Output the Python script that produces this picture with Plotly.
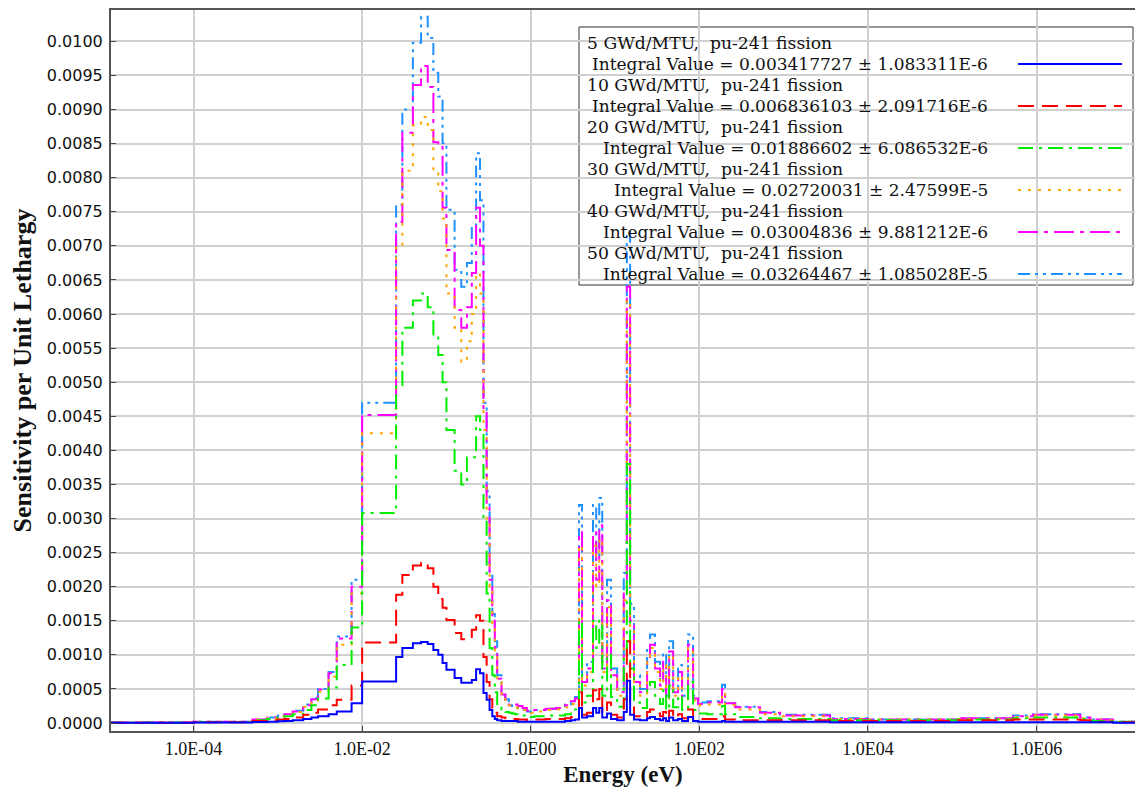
import plotly.graph_objects as go

# ---------------- data ----------------
# group boundaries in eV (step histogram, 92 groups)
energy_edges = [
    1e-5, 1e-4, 5e-4, 7.5e-4, 1e-3, 1.2e-3, 1.5e-3, 2e-3, 2.5e-3, 3e-3, 4e-3, 5e-3, 7.5e-3, 1e-2,
    2.53e-2, 3e-2, 4e-2, 5e-2, 6e-2, 7e-2, 8e-2, 9e-2, 0.1,
    0.125, 0.15, 0.175, 0.2, 0.225, 0.25, 0.275, 0.3,
    0.325, 0.35, 0.375, 0.4, 0.45, 0.5, 0.55, 0.6,
    0.65, 0.7, 0.8, 0.9, 1.0,
    1.1, 1.5, 2.0, 2.55, 3.0, 3.35,
    3.74, 4.06, 4.66, 5.48, 5.98, 6.5, 7.05, 8.04, 8.97, 10.6, 12.7, 13.8, 15.1, 16.8, 19.8,
    24.0, 26.0, 29.8, 34.2, 37.2, 40.4, 43.8, 48.9, 56.0, 62.4, 73.5, 84.3, 96.6, 124, 186,
    202, 266, 525, 907, 3560, 1.0e4, 1.15e5, 5.27e5, 9.1e5, 3.3e6, 4.35e6, 8.1e6, 2.0e7,
]

s5 = [
    0.000003, 0.000008, 0.000015, 0.00002, 0.000025, 0.00003, 0.00004, 0.00006, 0.00008, 0.0001, 0.00013, 0.00017, 0.00029,
    0.00061, 0.00097, 0.0011, 0.00117, 0.00119, 0.00116, 0.00107, 0.001, 0.00088,
    0.00078, 0.00066, 0.00059, 0.00059, 0.00063, 0.00079, 0.00073, 0.00044,
    0.00034, 0.00019, 0.0001, 0.00006, 0.00004, 0.00003, 0.00003, 0.00003,
    0.00003, 0.00003, 0.00002, 0.00002, 0.00002,
    0.00002, 0.00002, 0.00002, 0.00002, 0.00003, 0.00004,
    0.00005, 0.00022, 0.00008, 0.0001, 0.00022, 0.00015, 0.00022, 0.00008, 0.00014, 0.00006, 0.00004, 0.00016, 0.00062, 0.00012, 0.00005,
    0.00004, 0.00007, 0.00009, 0.00006, 0.00004, 0.00007, 0.00003, 0.00008, 0.00004, 0.00006, 0.00003, 0.00009, 0.00003, 0.00002, 0.00002,
    0.00003, 0.00002, 0.00002, 0.00002, 0.00002, 0.00001, 0.00001, 0.00001, 0.00001, 0.00001, 0.00001, 0.00001, 0.000005,
]

s10 = [
    0.000004, 0.00001, 0.00003, 0.00004, 0.00005, 0.00006, 0.00008, 0.00012, 0.00015, 0.0002, 0.00026, 0.00034, 0.00055,
    0.00118, 0.00188, 0.00217, 0.00231, 0.00235, 0.00227, 0.002, 0.00182, 0.00169,
    0.00151, 0.00132, 0.00123, 0.00123, 0.00137, 0.00158, 0.0015, 0.00097,
    0.0006, 0.00035, 0.00022, 0.00015, 0.0001, 0.00008, 0.00007, 0.00007,
    0.00006, 0.00006, 0.00005, 0.00005, 0.00004,
    0.00004, 0.00005, 0.00006, 0.00006, 0.00007, 0.00009,
    0.0001, 0.00045, 0.00012, 0.00015, 0.00048, 0.00035, 0.0005, 0.00014, 0.0003, 0.00012, 0.00008, 0.00035, 0.0012, 0.00028, 0.0001,
    0.00008, 0.00016, 0.0002, 0.00014, 0.0001, 0.00016, 0.00007, 0.00018, 0.00008, 0.00013, 0.00007, 0.0002, 0.00007, 0.00006, 0.00006,
    0.0001, 0.00005, 0.00004, 0.00004, 0.00004, 0.00003, 0.00003, 0.00004, 0.00005, 0.00005, 0.00004, 0.00002, 0.00001,
]

s20 = [
    0.000005, 0.000015, 0.00004, 0.00006, 0.00008, 0.0001, 0.00013, 0.00019, 0.00026, 0.00036, 0.00052, 0.00085, 0.0014,
    0.00308, 0.00496, 0.0058, 0.0062, 0.0063, 0.0061, 0.0057, 0.0054, 0.005,
    0.0043, 0.0037, 0.0035, 0.0039, 0.0039, 0.0045, 0.0043, 0.003,
    0.0019, 0.0011, 0.0007, 0.00045, 0.00028, 0.0002, 0.00016, 0.00015,
    0.00014, 0.00013, 0.00012, 0.00011, 0.0001,
    0.00009, 0.0001, 0.00011, 0.00011, 0.00013, 0.00017,
    0.0002, 0.0015, 0.0003, 0.0004, 0.0015, 0.0011, 0.0015, 0.0004, 0.001, 0.00038, 0.00024, 0.001, 0.0038, 0.0008, 0.0003,
    0.00022, 0.0005, 0.0006, 0.0004, 0.00028, 0.00048, 0.00019, 0.00055, 0.00023, 0.0004, 0.00019, 0.0006, 0.00019, 0.00014, 0.00013,
    0.00025, 0.00013, 0.00009, 0.00007, 0.00006, 0.00004, 0.00004, 0.00005, 0.00007, 0.00008, 0.00006, 0.00003, 0.00002,
]

s30 = [
    0.000006, 0.00002, 0.00005, 0.00007, 0.0001, 0.00012, 0.00016, 0.00024, 0.00033, 0.00046, 0.00068, 0.00115, 0.0019,
    0.00425, 0.007, 0.0081, 0.00877, 0.00889, 0.0087, 0.0081, 0.0078, 0.0074,
    0.0063, 0.0058, 0.0053, 0.0056, 0.006, 0.0066, 0.0063, 0.0043,
    0.003, 0.002, 0.0014, 0.001, 0.0006, 0.0004, 0.0003, 0.00026,
    0.00024, 0.00023, 0.00021, 0.00019, 0.00016,
    0.00015, 0.00017, 0.00019, 0.0002, 0.00023, 0.00028,
    0.00032, 0.0026, 0.00055, 0.00075, 0.0026, 0.002, 0.0027, 0.00075, 0.0017, 0.00065, 0.0004, 0.0018, 0.0062, 0.0014, 0.00055,
    0.0004, 0.0009, 0.0011, 0.00075, 0.0005, 0.00085, 0.00033, 0.001, 0.0004, 0.0007, 0.00033, 0.0011, 0.00033, 0.00026, 0.00027,
    0.00045, 0.00026, 0.0002, 0.00013, 0.0001, 0.00006, 0.00005, 0.00006, 0.00009, 0.00011, 0.00007, 0.00004, 0.00002,
]

s40 = [
    0.000006, 0.00002, 0.00005, 0.00008, 0.0001, 0.00013, 0.00017, 0.00026, 0.00035, 0.00049, 0.00073, 0.00124, 0.002,
    0.00452, 0.00735, 0.00866, 0.00936, 0.00964, 0.00933, 0.00852, 0.0085, 0.00756,
    0.00694, 0.00606, 0.0058, 0.0061, 0.0066, 0.00756, 0.007, 0.0046,
    0.0032, 0.0021, 0.0015, 0.0011, 0.00065, 0.00042, 0.00032, 0.00026,
    0.00028, 0.00027, 0.00025, 0.00022, 0.00018,
    0.00017, 0.00019, 0.00021, 0.00022, 0.00026, 0.00032,
    0.00036, 0.0028, 0.0006, 0.0008, 0.0028, 0.0021, 0.0029, 0.0008, 0.0018, 0.0007, 0.00045, 0.0019, 0.0064, 0.0015, 0.0006,
    0.00045, 0.00095, 0.00115, 0.0008, 0.00055, 0.0009, 0.00036, 0.00105, 0.00045, 0.00075, 0.00036, 0.00115, 0.00036, 0.00028, 0.0003,
    0.0005, 0.00029, 0.00023, 0.00015, 0.00011, 0.00006, 0.00005, 0.00007, 0.0001, 0.00012, 0.00008, 0.00005, 0.00002,
]

s50 = [
    0.000006, 0.00002, 0.00005, 0.00008, 0.00011, 0.00013, 0.00018, 0.00027, 0.00037, 0.0005, 0.00075, 0.00127, 0.0021,
    0.0047, 0.0076, 0.009, 0.00998, 0.01036, 0.01005, 0.00954, 0.00919, 0.00851,
    0.00753, 0.00665, 0.0064, 0.00675, 0.0073, 0.00836, 0.00767, 0.0047,
    0.0034, 0.0022, 0.0016, 0.0012, 0.0007, 0.00045, 0.00035, 0.00026,
    0.00025, 0.00024, 0.00022, 0.0002, 0.00017,
    0.00016, 0.00019, 0.00021, 0.00022, 0.00027, 0.00034,
    0.00038, 0.0032, 0.0007, 0.0009, 0.0032, 0.0024, 0.0033, 0.0009, 0.0021, 0.0008, 0.0005, 0.0022, 0.0072, 0.00175, 0.0007,
    0.0005, 0.00107, 0.0013, 0.0009, 0.0006, 0.00103, 0.0004, 0.0012, 0.0005, 0.00085, 0.0004, 0.0013, 0.0004, 0.0003, 0.00032,
    0.00056, 0.00029, 0.00024, 0.00016, 0.00012, 0.00007, 0.00005, 0.00007, 0.00011, 0.00013, 0.00008, 0.00005, 0.00002,
]

series_names = [
    "5 GWd/MTU,\u00a0 pu-241 fission",
    "10 GWd/MTU,\u00a0 pu-241 fission",
    "20 GWd/MTU,\u00a0 pu-241 fission",
    "30 GWd/MTU,\u00a0 pu-241 fission",
    "40 GWd/MTU,\u00a0 pu-241 fission",
    "50 GWd/MTU,\u00a0 pu-241 fission",
]
integral_values = [
    "0.003417727 ± 1.083311E-6",
    "0.006836103 ± 2.091716E-6",
    "0.01886602 ± 6.086532E-6",
    "0.02720031 ± 2.47599E-5",
    "0.03004836 ± 9.881212E-6",
    "0.03264467 ± 1.085028E-5",
]
series_values = [s5, s10, s20, s30, s40, s50]
colors = ["#0000ff", "#ff0000", "#00ee00", "#ffa500", "#ff00ff", "#1e90ff"]
dashes = ["solid", "16px,8px", "15px,6px,3px,6px", "3px,7px", "20px,6px,4px,6px", "12px,5px,3px,5px,3px,5px"]

x_tickvals = [1e-4, 1e-2, 1e0, 1e2, 1e4, 1e6]
x_ticktext = ["1.0E-04", "1.0E-02", "1.0E00", "1.0E02", "1.0E04", "1.0E06"]
y_tickvals = [i * 0.0005 for i in range(21)]

# ---------------- figure ----------------
W, H = 1135, 793
L, R, T, B = 111, 1135, 10, 731   # plot area in page pixels

def px2x(px):
    return (px - L) / (R - L)

def px2y(py):
    return (B - py) / (B - T)

fig = go.Figure()
for k in reversed(range(6)):
    vals = series_values[k]
    fig.add_trace(go.Scatter(
        x=energy_edges,
        y=list(vals) + [vals[-1]],
        mode="lines",
        line=dict(color=colors[k], width=2, dash=dashes[k], shape="hv"),
        name=series_names[k],
        showlegend=False,
    ))

# legend box (drawn between grid and traces)
fig.add_shape(type="rect", xref="paper", yref="paper",
              x0=px2x(579), x1=px2x(1133), y0=px2y(285), y1=px2y(27),
              line=dict(color="#333333", width=1), fillcolor="white", layer="between")

serif = "DejaVu Serif"
for k in range(6):
    y1 = 43 + 42 * k
    y2 = y1 + 21
    fig.add_annotation(xref="paper", yref="paper", x=px2x(585), y=px2y(y1),
                       text=series_names[k], showarrow=False, xanchor="left", yanchor="middle",
                       font=dict(family=serif, size=17.2, color="#111111"))
    fig.add_annotation(xref="paper", yref="paper", x=px2x(990), y=px2y(y2),
                       text="Integral Value = " + integral_values[k], showarrow=False,
                       xanchor="right", yanchor="middle",
                       font=dict(family=serif, size=17.0, color="#111111"))
    fig.add_shape(type="line", xref="paper", yref="paper",
                  x0=px2x(1018), x1=px2x(1122), y0=px2y(y2), y1=px2y(y2),
                  line=dict(color=colors[k], width=2, dash=dashes[k]), layer="above")

fig.update_layout(
    width=W, height=H,
    margin=dict(l=L, r=W - R, t=T, b=H - B, autoexpand=False),
    paper_bgcolor="white", plot_bgcolor="white",
    showlegend=False,
)
fig.update_xaxes(
    type="log", range=[-4.979, 7.168],
    tickvals=x_tickvals, ticktext=x_ticktext,
    tickfont=dict(family="Liberation Serif", size=18, color="#111111"),
    ticks="inside", ticklen=5, tickcolor="#444444",
    showline=True, linecolor="#555555", linewidth=2, mirror=True,
    showgrid=True, gridcolor="#d0d0d0", gridwidth=2, zeroline=False,
    title=dict(text="<b>Energy (eV)</b>", font=dict(family="Liberation Serif", size=23, color="#111111"), standoff=8),
)
fig.update_yaxes(
    range=[-0.000117, 0.01046],
    tickvals=y_tickvals, tickformat=".4f",
    tickfont=dict(family="DejaVu Sans", size=16, color="#111111"),
    ticks="inside", ticklen=5, tickcolor="#444444", ticklabelstandoff=3,
    showline=True, linecolor="#555555", linewidth=2, mirror=False,
    showgrid=True, gridcolor="#d0d0d0", gridwidth=2, zeroline=False,
    title=dict(text="<b>Sensitivity per Unit Lethargy</b>", font=dict(family="Liberation Serif", size=26, color="#111111"), standoff=8),
)

fig.write_html(
    "out.html",
    config={"displayModeBar": False},
    post_script="document.body.style.margin='0px';document.body.style.overflow='hidden';",
)
